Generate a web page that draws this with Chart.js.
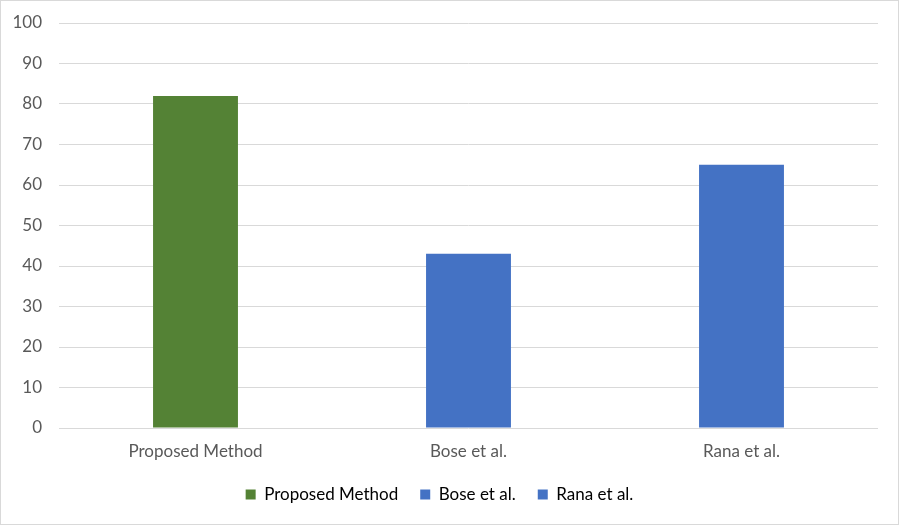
<!DOCTYPE html>
<html>
<head>
<meta charset="utf-8">
<script src="https://cdn.jsdelivr.net/npm/chart.js@4"></script>
<style>
  html, body { margin: 0; padding: 0; background: #fff; }
  #wrap { width: 899px; height: 525px; box-sizing: border-box; border: 1px solid #d9d9d9; position: relative; }
</style>
</head>
<body>
<div id="wrap"><canvas id="myChart"></canvas></div>
<script>
const categories = ["Proposed Method", "Bose et al.", "Rana et al."];
const scores = [82, 43, 65];
const barColors = ["#548235", "#4472c4", "#4472c4"];
const yTicks = [0, 10, 20, 30, 40, 50, 60, 70, 80, 90, 100];

const textColor = "#595959";
const font = { family: "Lato, 'Open Sans', sans-serif", size: 17 };

const ctx = document.getElementById("myChart").getContext("2d");

new Chart(ctx, {
  type: "bar",
  data: {
    labels: categories,
    datasets: [{
      data: scores,
      backgroundColor: barColors,
      categoryPercentage: 1,
      barPercentage: 0.311
    }]
  },
  options: {
    responsive: true,
    maintainAspectRatio: false,
    animation: false,
    layout: { padding: { left: 0, right: 20, top: 22, bottom: 11 } },
    plugins: {
      tooltip: { enabled: false },
      legend: {
        position: "bottom",
        labels: {
          color: textColor,
          font: font,
          boxWidth: 10,
          boxHeight: 10,
          padding: 22,
          generateLabels: function (chart) {
            return categories.map(function (c, i) {
              return { text: c, fillStyle: barColors[i], strokeStyle: barColors[i], lineWidth: 0, index: i };
            });
          }
        },
        onClick: function () {}
      }
    },
    scales: {
      x: {
        grid: { display: false },
        border: { display: false },
        ticks: { color: textColor, font: font, padding: 5 },
        afterFit: function (s) { s.height = 36; }
      },
      y: {
        min: 0,
        max: 100,
        afterBuildTicks: function (s) { s.ticks = yTicks.map(function (v) { return { value: v }; }); },
        grid: { color: "#d9d9d9", lineWidth: 1, drawTicks: false },
        border: { display: false },
        ticks: { color: textColor, font: font, padding: 17 },
        afterFit: function (s) {
          s.width = 58;
          s.paddingTop = 0;
          s.paddingBottom = 0;
        }
      }
    }
  }
});
</script>
</body>
</html>
